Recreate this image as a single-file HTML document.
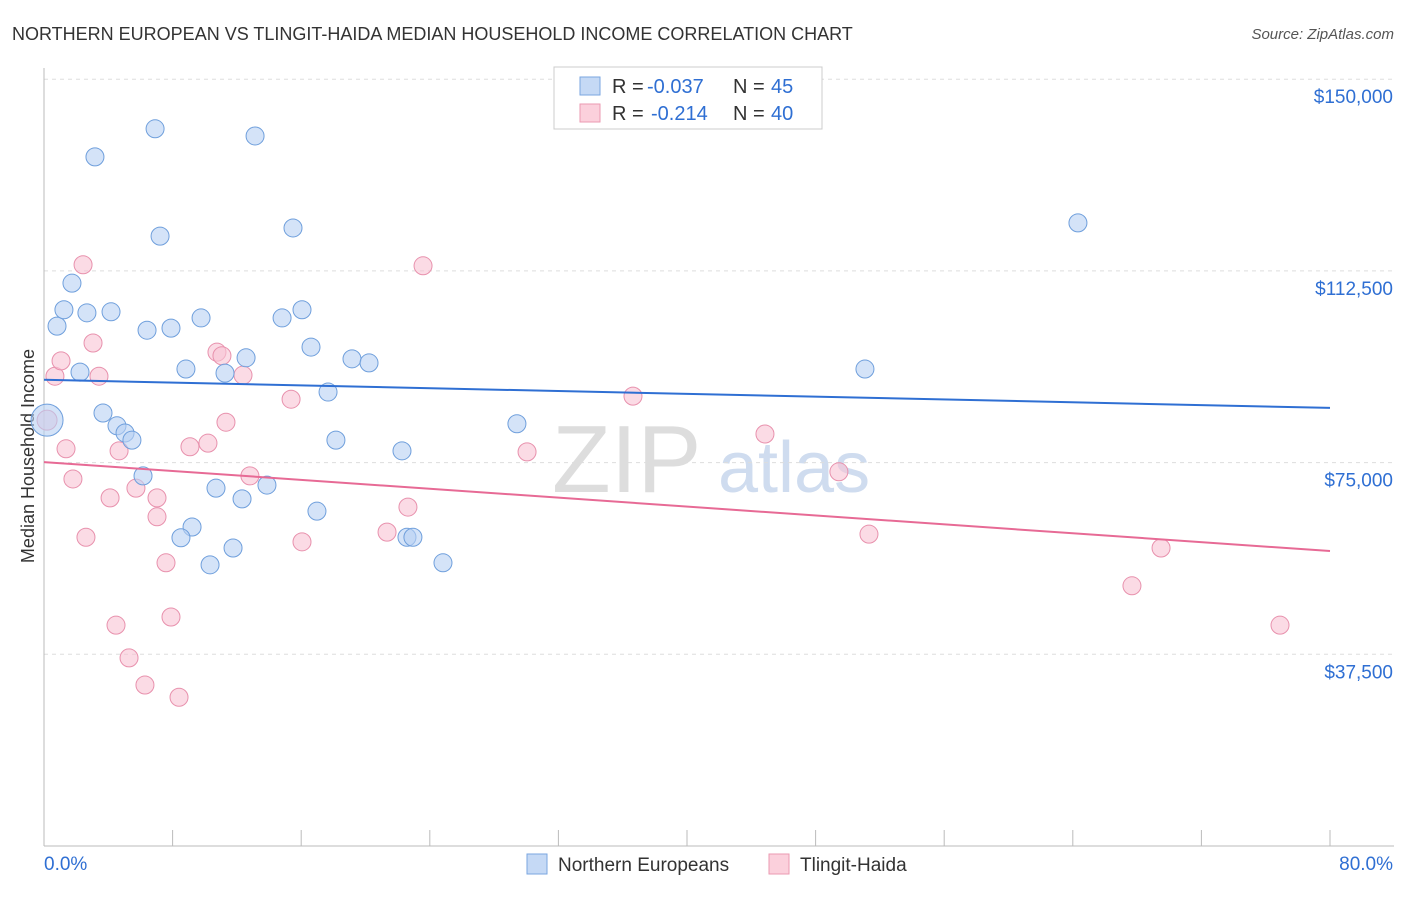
<!DOCTYPE html>
<html><head><meta charset="utf-8"><style>
body{margin:0;background:#fff;font-family:"Liberation Sans",sans-serif;}
svg text{font-family:"Liberation Sans",sans-serif;}
</style></head><body>
<svg id="c" width="1406" height="892">
<text x="12" y="40" font-size="18" fill="#333">NORTHERN EUROPEAN VS TLINGIT-HAIDA MEDIAN HOUSEHOLD INCOME CORRELATION CHART</text>
<text x="1394" y="39" font-size="15" fill="#555" font-style="italic" text-anchor="end">Source: ZipAtlas.com</text>
<text x="552" y="492" font-size="96" fill="#ddd" font-family="Liberation Serif">ZIP</text>
<text x="718" y="492" font-size="72" fill="#cfdcef">atlas</text>
<text transform="translate(34,456) rotate(-90)" font-size="18" fill="#333" text-anchor="middle">Median Household Income</text>
<g id="grid"></g><g id="pts"></g><g id="trend"></g>
<g>
<rect x="554" y="67" width="268" height="62" fill="#fff" stroke="#ccc"/>
<rect x="580" y="77" width="20" height="18" fill="#c5d9f5" stroke="#7aa6e0"/>
<rect x="580" y="104" width="20" height="18" fill="#fbd0dc" stroke="#eb9ab2"/>
<text x="612" y="93" font-size="20" fill="#333">R =</text>
<text x="647" y="93" font-size="20" fill="#2f6fd3">-0.037</text>
<text x="733" y="93" font-size="20" fill="#333">N =</text>
<text x="771" y="93" font-size="20" fill="#2f6fd3">45</text>
<text x="612" y="120" font-size="20" fill="#333">R =</text>
<text x="651" y="120" font-size="20" fill="#2f6fd3">-0.214</text>
<text x="733" y="120" font-size="20" fill="#333">N =</text>
<text x="771" y="120" font-size="20" fill="#2f6fd3">40</text>
</g>
<g>
<rect x="527" y="854" width="20" height="20" fill="#c5d9f5" stroke="#7aa6e0"/>
<text x="558" y="871" font-size="19" fill="#333">Northern Europeans</text>
<rect x="769" y="854" width="20" height="20" fill="#fbd0dc" stroke="#eb9ab2"/>
<text x="800" y="871" font-size="19" fill="#333">Tlingit-Haida</text>
</g>
<text x="44" y="870" font-size="19" fill="#2f6fd3">0.0%</text>
<text x="1393" y="870" font-size="19" fill="#2f6fd3" text-anchor="end">80.0%</text>
</svg>
<script>
const yTicks=[150000,112500,75000,37500];
const yTickLabels=["$150,000","$112,500","$75,000","$37,500"];
const blueX=[0.19,0.81,1.24,1.74,2.67,3.17,2.24,3.67,4.17,4.54,5.04,5.47,6.16,6.41,6.91,7.22,7.90,8.83,9.21,8.52,9.77,10.33,10.70,11.26,11.76,12.32,12.57,13.13,13.87,14.81,15.49,16.05,16.61,16.98,17.67,18.16,19.16,20.22,22.27,22.58,22.95,24.82,29.42,51.07,64.32];
const blueY=[83.3,101.7,104.9,110.1,104.3,134.8,92.7,84.7,104.5,82.2,80.8,79.4,72.4,100.9,140.3,119.3,101.3,93.3,62.4,60.3,103.3,55.0,70.0,92.5,58.3,67.9,95.5,138.9,70.6,103.3,120.9,104.9,97.6,65.5,88.8,79.4,95.3,94.5,77.3,60.4,60.4,55.4,82.6,93.3,121.9];
const pinkX=[0.19,0.68,1.06,1.37,1.80,2.43,2.61,3.05,3.42,4.11,4.48,4.67,5.29,5.72,6.28,7.03,7.03,7.59,7.90,8.40,9.08,10.20,10.76,11.07,11.32,12.38,12.81,15.37,16.05,21.34,22.64,23.58,30.05,36.64,44.85,49.45,51.32,67.68,69.49,76.89];
const pinkY=[83.3,91.9,94.9,77.7,71.8,113.7,60.4,98.4,91.9,68.1,43.2,77.3,36.8,70.0,31.5,68.1,64.4,55.4,44.8,29.1,78.1,78.8,96.6,95.9,82.9,92.1,72.4,87.4,59.5,61.4,66.3,113.5,77.1,88.0,80.6,73.2,61.0,50.9,58.3,43.2];
const blueTrend=[91.2,85.7];
const pinkTrend=[75.1,57.7];
const NS="http://www.w3.org/2000/svg";
const xs=p=>44+p*16.075;
const ys=v=>846-v/37500*191.7;
function mk(t,a,p){const e=document.createElementNS(NS,t);for(const k in a)e.setAttribute(k,a[k]);p.appendChild(e);return e;}
const grid=document.getElementById('grid'),pts=document.getElementById('pts'),tr=document.getElementById('trend');
yTicks.forEach((v,i)=>{
 const l=mk('line',{x1:44,x2:1394,y1:ys(v),y2:ys(v),stroke:'#ddd','stroke-dasharray':'4,4'},grid);
 
 
 const t=mk('text',{x:1393,y:ys(v)+24,'font-size':19,fill:'#2f6fd3','text-anchor':'end'},grid);
 t.textContent=yTickLabels[i];
 
 
});
const ax=mk('line',{x1:44,x2:44,y1:68,y2:846,stroke:'#bbb'},grid);


const bx=mk('line',{x1:44,x2:1394,y1:846,y2:846,stroke:'#bbb'},grid);


for(let i=0;i<=10;i++){const t=mk('line',{x1:xs(i*8),x2:xs(i*8),y1:830,y2:846,stroke:'#bbb'},grid);
 
 }
function dots(X,Y,fill,stroke,name){X.forEach((x,i)=>{
 const r=(i===0)?(name==='blue-point'?16:10):9;
 const c=mk('circle',{cx:xs(x),cy:ys(Y[i]*1000),r:r,fill:fill,stroke:stroke,'stroke-width':1,'fill-opacity':0.6},pts);
 
 });}
dots(pinkX,pinkY,'#f9c3d3','#e891ad','pink-point');
dots(blueX,blueY,'#b8d1f3','#6f9fdc','blue-point');
const bl=mk('line',{x1:xs(0),x2:xs(80),y1:ys(blueTrend[0]*1000),y2:ys(blueTrend[1]*1000),stroke:'#2f6fd3','stroke-width':2},tr);


const pl=mk('line',{x1:xs(0),x2:xs(80),y1:ys(pinkTrend[0]*1000),y2:ys(pinkTrend[1]*1000),stroke:'#e76a95','stroke-width':2},tr);


</script>
</body></html>
